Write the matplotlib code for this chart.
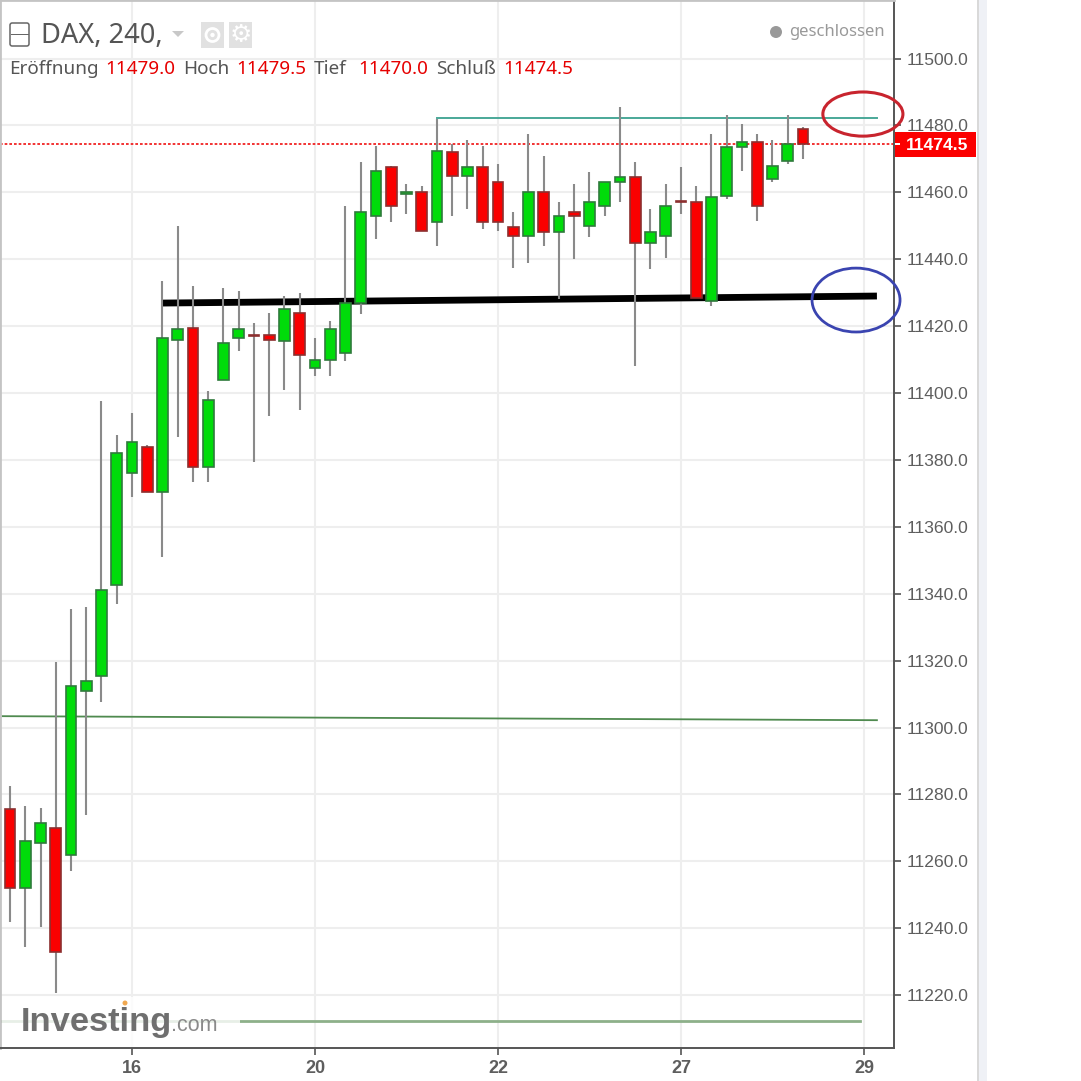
import numpy as np
import matplotlib
matplotlib.use("Agg")
import matplotlib.pyplot as plt
from matplotlib.patches import Ellipse, Rectangle, FancyBboxPatch, Circle, Polygon

# candles
opens = [11275.5, 11252, 11265.5, 11270, 11262, 11311, 11315.5, 11342.5, 11376, 11384,
         11370.5, 11416, 11419.5, 11378, 11404, 11416.5, 11417.5, 11417.5, 11415.5, 11424,
         11407.5, 11410, 11412, 11427, 11453, 11467.5, 11459.5, 11460, 11451, 11472,
         11465, 11467.5, 11463, 11449.5, 11447, 11460, 11448, 11454, 11450, 11456,
         11463, 11464.5, 11445, 11447, 11457.5, 11457, 11427.5, 11459, 11473.5, 11475,
         11464, 11469.5, 11479]
highs = [11282.5, 11276.5, 11276, 11319.5, 11335.5, 11336, 11397.5, 11387.5, 11394, 11384.5,
         11433.5, 11450, 11432, 11400.5, 11431.5, 11430.5, 11421, 11424, 11429, 11430,
         11416.5, 11421.5, 11456, 11469, 11474, 11468, 11462.5, 11462, 11482, 11474.5,
         11475.5, 11474, 11468.5, 11454, 11477.5, 11471, 11457, 11462.5, 11466, 11463,
         11485.5, 11469, 11455, 11462.5, 11467.5, 11462, 11477.5, 11483, 11480.5, 11477.5,
         11475.5, 11483, 11479.5]
lows = [11242, 11234.5, 11240.5, 11220.5, 11257, 11274, 11307.5, 11337, 11369, 11370.5,
        11351, 11387, 11373.5, 11373.5, 11404, 11412.5, 11379.5, 11393, 11401, 11395,
        11405, 11405, 11409.5, 11423.5, 11446, 11451, 11453.5, 11448.5, 11444, 11453,
        11455, 11449, 11448.5, 11437.5, 11439, 11444, 11428, 11440, 11446.5, 11453,
        11457, 11408, 11437, 11440.5, 11453.5, 11428.5, 11426, 11458, 11466.5, 11451.5,
        11463, 11468.5, 11470]
closes = [11252, 11266, 11271.5, 11233, 11312.5, 11314, 11341, 11382, 11385.5, 11370.5,
          11416.5, 11419, 11378, 11398, 11415, 11419, 11417, 11416, 11425, 11411.5,
          11410, 11419, 11427, 11454, 11466.5, 11456, 11460, 11448.5, 11472.5, 11465,
          11467.5, 11451, 11451, 11447, 11460, 11448, 11453, 11453, 11457, 11463,
          11464.5, 11445, 11448, 11456, 11457, 11428.5, 11458.5, 11473.5, 11475, 11456,
          11468, 11474.5, 11474.5]

yticks = [11220, 11240, 11260, 11280, 11300, 11320, 11340, 11360, 11380, 11400,
          11420, 11440, 11460, 11480, 11500]
xticks = [8, 20, 32, 44, 56]
xlabels = ["16", "20", "22", "27", "29"]
last_price = 11474.5

W = 1081
fig = plt.figure(figsize=(W / 100, W / 100), dpi=100)
plt.rcParams["font.family"] = ["Liberation Sans", "DejaVu Sans"]


def fx(x):
    return x / W


def fy(y):
    return 1 - y / W


def box(x0, y0, x1, y1, **kw):
    fig.add_artist(Rectangle((fx(x0), fy(y1)), (x1 - x0) / W, (y1 - y0) / W,
                             transform=fig.transFigure, lw=0, **kw))


def label(x, y, s, **kw):
    kw.setdefault("va", "baseline")
    kw.setdefault("family", "Noto Sans")
    fig.text(fx(x), fy(y), s, **kw)


# side band and border right of the price scale
box(977, 0, 979, 1081, color="#d9d9d9")
box(979, 0, 987, 1081, color="#eff1f6")

ax = fig.add_axes([0, 1 - 1048 / W, 894 / W, 1048 / W])
ax.set_xlim(-0.656, 57.97)
ax.set_ylim(11204.2, 11517.5)
ax.yaxis.tick_right()
ax.set_yticks(yticks)
ax.set_yticklabels([f"{v:.1f}" for v in yticks], fontsize=12.6, color="#5e5e5e")
ax.set_xticks(xticks)
ax.set_xticklabels(xlabels, fontsize=13, color="#5e5e5e", fontweight="bold")
ax.tick_params(axis="y", length=5, width=1.2, color="#555555", pad=4)
ax.tick_params(axis="x", length=5, width=1.2, color="#555555", pad=3.5)
ax.grid(True, color="#eeeeee", lw=1.5)
ax.set_axisbelow(True)
for side in ["top", "left"]:
    ax.spines[side].set_color("#c4c4c4")
    ax.spines[side].set_linewidth(2)
for side in ["right", "bottom"]:
    ax.spines[side].set_color("#555555")
    ax.spines[side].set_linewidth(1.4)

# hand drawn lines
ax.plot([-0.5, 56.85], [11303.4, 11302.2], color="#4f8a4f", lw=1.3, zorder=2)
ax.plot([-0.5, 55.75], [11212.3, 11212.3], color="#8db08a", lw=2, zorder=2)
ax.plot([28, 56.85], [11482.2, 11482.2], color="#4aa898", lw=1.4, zorder=2)
ax.plot([10, 56.85], [11426.9, 11429], color="black", lw=4.9, solid_capstyle="butt", zorder=2)
ax.axhline(last_price, color="#f01010", lw=1.2, ls=(0, (1.6, 1.2)), zorder=2)

# candles
x = np.arange(len(opens))
o = np.array(opens)
c = np.array(closes)
up = c >= o
ax.vlines(x, lows, highs, color="#8a8a8a", lw=1.5, zorder=3)
ax.bar(x[up], (c - o)[up], bottom=o[up], width=0.7, color="#00dc0a",
       edgecolor="#2f7a3c", lw=1.2, zorder=4)
ax.bar(x[~up], (c - o)[~up], bottom=o[~up], width=0.7, color="#fa0000",
       edgecolor="#8c2f2f", lw=1.2, zorder=4)

# circles around the line ends
ax.add_patch(Ellipse((55.93, 11483.4), 5.25, 13.2, fill=False, edgecolor="#c8242e",
                     lw=2.2, clip_on=False, zorder=6))
ax.add_patch(Ellipse((55.48, 11427.8), 5.77, 19.1, fill=False, edgecolor="#3a44b0",
                     lw=2, clip_on=False, zorder=6))

# last price tag
box(895, 132, 976, 157, color="#fb0000", zorder=7)
fig.text(fx(906), fy(145), f"{last_price:.1f}", color="white", fontsize=12.6,
         fontweight="bold", va="center", zorder=8)
box(895, 143, 900, 145, color="white", zorder=8)

# header: collapse box, name, dropdown, two buttons
fig.add_artist(FancyBboxPatch((fx(10), fy(46)), 19 / W, 23 / W, boxstyle="round,pad=0,rounding_size=0.002",
                              transform=fig.transFigure, fc="white", ec="#666666", lw=1.1))
box(11, 33.5, 29, 35, color="#666666")
label(41, 43, "DAX, 240,", fontsize=19.6, color="#555555")
fig.add_artist(Polygon([[fx(172), fy(31)], [fx(184), fy(31)], [fx(178), fy(37)]],
                       transform=fig.transFigure, color="#c8c8c8", lw=0))
box(201, 22, 224, 48, color="#e1e1e1")
box(229, 22, 252, 48, color="#e1e1e1")
fig.add_artist(Circle((fx(212.5), fy(35)), 6.5 / W, transform=fig.transFigure, fc="none", ec="white", lw=2))
fig.add_artist(Circle((fx(212.5), fy(35)), 2.2 / W, transform=fig.transFigure, fc="white", lw=0))
fig.text(fx(240.5), fy(35), "\u2699", color="white", fontsize=18, ha="center", va="center",
         family="DejaVu Sans")

# open/high/low/close row
row = [(9, "Eröffnung", "#555555"), (105, "11479.0", "#e60000"), (183, "Hoch", "#555555"),
       (236, "11479.5", "#e60000"), (314, "Tief", "#555555"), (358, "11470.0", "#e60000"),
       (436, "Schluß", "#555555"), (503, "11474.5", "#e60000")]
for px, s, col in row:
    label(px, 74, s, fontsize=13.6, color=col)

# market status
fig.add_artist(Circle((fx(776), fy(32)), 6 / W, transform=fig.transFigure, fc="#999999", lw=0))
label(789, 36, "geschlossen", fontsize=12, color="#999999")

# watermark
box(2, 997, 240, 1047, color="white", alpha=0.8, zorder=5)
label(21, 1031, "Investing", fontsize=24.8, fontweight="bold", color="#6f6f6f", zorder=6,
      family="Liberation Sans")
label(171, 1031, ".com", fontsize=15.5, color="#8a8a8a", zorder=6, family="Liberation Sans")
fig.add_artist(Circle((fx(125), fy(1003)), 2.5 / W, transform=fig.transFigure, fc="#f0a850", lw=0, zorder=7))

fig.savefig("out.png", dpi=100)
